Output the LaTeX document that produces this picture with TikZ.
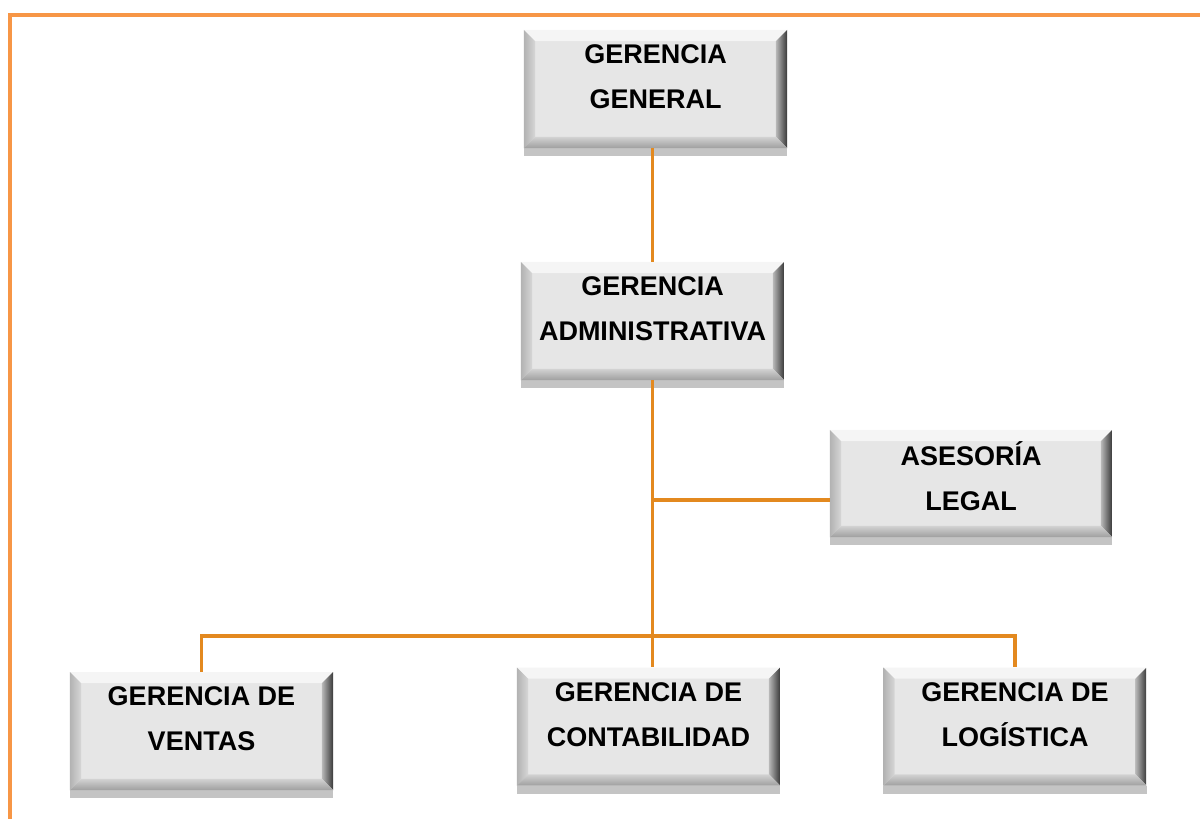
\documentclass[tikz,border=0pt]{standalone}
\usepackage{fontspec}
\setmainfont{Liberation Sans}
\definecolor{marco}{HTML}{F79646}
\definecolor{linea}{HTML}{E3891F}
\definecolor{cara}{HTML}{E6E6E6}
\definecolor{sombra}{HTML}{C4C4C4}
\newcommand\bisel{0.28cm}
\tikzset{
  cajabox/.style={fill=cara, minimum width=6.575cm, minimum height=2.95cm,
    preaction={fill=sombra, transform canvas={yshift=-0.2cm}, path picture={}},
    path picture={
      \fill[white!60!cara] (path picture bounding box.north west) -- (path picture bounding box.north east)
        -- ([xshift=-\bisel,yshift=-\bisel]path picture bounding box.north east)
        -- ([xshift=\bisel,yshift=-\bisel]path picture bounding box.north west) -- cycle;
      \shade[left color=gray!60, right color=cara!85!gray] (path picture bounding box.north west)
        -- ([xshift=\bisel,yshift=-\bisel]path picture bounding box.north west)
        -- ([xshift=\bisel,yshift=\bisel]path picture bounding box.south west)
        -- (path picture bounding box.south west) -- cycle;
      \shade[left color=gray!55, right color=gray!45!black] (path picture bounding box.north east)
        -- ([xshift=-\bisel,yshift=-\bisel]path picture bounding box.north east)
        -- ([xshift=-\bisel,yshift=\bisel]path picture bounding box.south east)
        -- (path picture bounding box.south east) -- cycle;
      \shade[top color=gray!35, bottom color=gray!75] (path picture bounding box.south west)
        -- ([xshift=\bisel,yshift=\bisel]path picture bounding box.south west)
        -- ([xshift=-\bisel,yshift=\bisel]path picture bounding box.south east)
        -- (path picture bounding box.south east) -- cycle;
    }},
  texto/.style={align=center, font=\fontsize{19.2}{32}\selectfont\bfseries, yshift=8.5pt},
  conector/.style={draw=linea, line width=2.3pt}
}
\begin{document}
\begin{tikzpicture}[x=0.025cm,y=-0.025cm]
  \useasboundingbox (0,0) rectangle (1200,818);
  \draw[marco, line width=3.5pt] (10,820) -- (10,15) -- (1202,15);
  \coordinate (bus) at (652.5,636);
  \coordinate (rama) at (652.5,500);
  \node[cajabox, label={[texto]center:{GERENCIA\\GENERAL}}] (gg) at (655.5,89) {};
  \node[cajabox, label={[texto]center:{GERENCIA\\ADMINISTRATIVA}}] (ga) at (652.5,321) {};
  \node[cajabox, minimum width=7.05cm, minimum height=2.675cm,
    label={[texto, yshift=-3.5pt]center:{ASESORÍA\\LEGAL}}] (al) at (971,483.5) {};
  \node[cajabox, label={[texto]center:{GERENCIA DE\\VENTAS}}] (gv) at (201.5,731) {};
  \node[cajabox, label={[texto]center:{GERENCIA DE\\CONTABILIDAD}}] (gc) at (648.5,726.5) {};
  \node[cajabox, label={[texto]center:{GERENCIA DE\\LOGÍSTICA}}] (gl) at (1015,726.5) {};
  \draw[conector] (ga.north |- gg.south) -- (ga.north);
  \draw[conector] (ga.south) -- (ga.south |- gc.north);
  \draw[conector] (rama) -- (rama -| al.west);
  \draw[conector] (gv.north) |- (bus) -| (gl.north);
\end{tikzpicture}
\end{document}
